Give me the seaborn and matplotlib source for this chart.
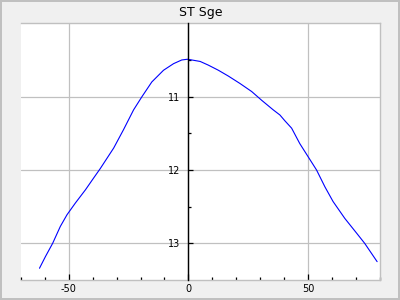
import matplotlib
matplotlib.use("Agg")
import matplotlib.pyplot as plt
from matplotlib.ticker import MultipleLocator, FixedLocator
import seaborn as sns
import pandas as pd

title = "ST Sge"
phase = [-62.2, -59.7, -56.7, -53.5, -50.7, -47.2, -43.0, -39.6, -36.8, -32.2,
         -31.2, -27.1, -22.9, -19.4, -15.3, -10.4, -6.2, -2.8, -0.4,
         1.4, 4.9, 8.3, 12.5, 16.7, 21.5, 26.4, 30.6, 35.4, 38.2, 40.3, 43.1,
         46.5, 50.0, 53.5, 57.0, 60.4, 65.3, 70.2, 73.6, 78.8]
mag = [13.34, 13.18, 13.00, 12.77, 12.61, 12.45, 12.27, 12.11, 11.98, 11.75,
       11.70, 11.45, 11.18, 11.00, 10.80, 10.64, 10.55, 10.50, 10.49,
       10.50, 10.52, 10.57, 10.64, 10.72, 10.82, 10.93, 11.05, 11.18, 11.25, 11.33, 11.43,
       11.64, 11.82, 12.00, 12.23, 12.43, 12.66, 12.86, 13.00, 13.25]
y_ticks = [11, 12, 13]
y_minor = [10.5, 11.5, 12.5]

df = pd.DataFrame({"phase": phase, "mag": mag})

sns.set_theme(style="white")
plt.rcParams['font.family'] = ['DejaVu Sans']
plt.rcParams['axes.unicode_minus'] = False

fig = plt.figure(figsize=(4, 3), dpi=100)
fig.patch.set_facecolor('#f0f0f0')
fig.patch.set_edgecolor('#c0c0c0')
fig.patch.set_linewidth(1.5)
ax = fig.add_axes([0.052, 0.0667, 0.898, 0.8556])
ax.set_facecolor('white')

sns.lineplot(data=df, x="phase", y="mag", ax=ax, color='#0000ff', linewidth=0.8,
             sort=False, estimator=None)

ax.set_xlim(-70, 80)
ax.set_ylim(13.5, 10.0)
ax.xaxis.set_major_locator(MultipleLocator(50))
ax.xaxis.set_minor_locator(MultipleLocator(10))
ax.yaxis.set_major_locator(FixedLocator(y_ticks))
ax.yaxis.set_minor_locator(FixedLocator(y_minor))

ax.grid(True, which='major', color='#c0c0c0', linewidth=0.9)
ax.set_axisbelow(True)

for s in ['top', 'right', 'bottom']:
    ax.spines[s].set_color('#c0c0c0')
    ax.spines[s].set_linewidth(1.0)
ax.spines['left'].set_position(('data', 0))
ax.spines['left'].set_color('black')
ax.spines['left'].set_linewidth(1.0)
ax.spines['left'].set_zorder(3)

ax.tick_params(axis='x', which='major', direction='in', length=4, width=0.9,
               color='black', labelcolor='black', labelsize=7, pad=3, bottom=True)
ax.tick_params(axis='x', which='minor', direction='in', length=2.2, width=0.9,
               color='black', bottom=True)
ax.tick_params(axis='y', which='major', direction='in', length=3.6, width=0.9,
               color='black', labelcolor='black', labelsize=7, pad=6, left=True)
ax.tick_params(axis='y', which='minor', direction='in', length=2, width=0.9,
               color='black', left=True)

ax.set_xlabel('')
ax.set_ylabel('')
ax.set_title(title, fontsize=9, pad=5, color='black')

fig.savefig('out.png', dpi=100, facecolor=fig.get_facecolor(), edgecolor=fig.get_edgecolor())
